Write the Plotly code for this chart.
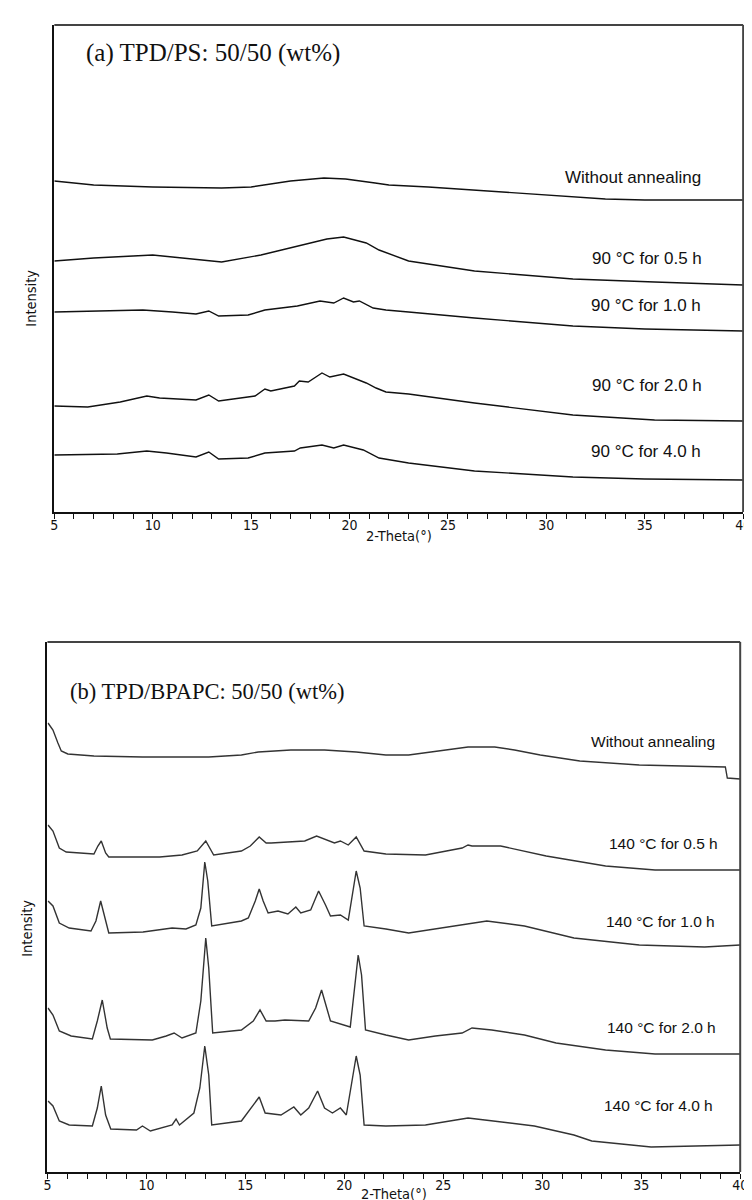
import plotly.graph_objects as go

# ---------------- Panel (a) TPD/PS data (2-Theta, intensity a.u.) ----------------
a_labels = ["Without annealing", "90 °C for 0.5 h", "90 °C for 1.0 h", "90 °C for 2.0 h", "90 °C for 4.0 h"]

a_wa_x = [5, 7, 10, 13.5, 15, 17, 18.7, 19.8, 21.3, 22, 24, 26.3, 30, 33, 35, 40]
a_wa_y = [335, 331, 329, 328, 329, 335, 338, 337, 333, 331, 329, 326, 321, 317, 316, 316]

a_05_x = [5, 7, 10, 11.85, 13.5, 15.5, 17.2, 18.85, 19.7, 20.85, 21.5, 23, 26.35, 31.35, 35.5, 40]
a_05_y = [255, 258, 261, 257, 254, 261, 269, 277, 279, 273, 266, 255, 245, 237, 234, 231]

a_10_x = [5, 7, 9.5, 11, 12.2, 12.85, 13.35, 14.85, 15.7, 17.35, 18.5, 19.2, 19.7, 20.2, 20.5, 21.2, 21.85, 23, 26.35, 31.35, 35, 40]
a_10_y = [204, 205, 206, 204, 202, 205, 200, 201, 206, 210, 215, 213, 218, 214, 215, 208, 206, 204, 198, 190, 187, 185]

a_20_x = [5, 6.7, 8.35, 9.7, 10.35, 12.2, 12.85, 13.35, 15.2, 15.7, 16, 17.2, 17.45, 17.9, 18.6, 19, 19.7, 20.25, 20.85, 21.35, 21.85, 23, 26.35, 31.35, 35.5, 40]
a_20_y = [110, 109, 114, 120, 118, 116, 121, 115, 120, 127, 125, 130, 135, 134, 143, 139, 142, 138, 133, 128, 124, 122, 113, 101, 96, 95]

a_40_x = [5, 8.2, 9.7, 10.7, 12.2, 12.85, 13.35, 14.85, 15.7, 17.2, 17.5, 18.6, 19.2, 19.7, 20.7, 21.5, 23, 26.35, 31.35, 35, 40]
a_40_y = [61, 62, 65, 63, 59, 64, 57, 58, 63, 65, 68, 71, 68, 71, 66, 58, 53, 45, 39, 37, 36]

# ---------------- Panel (b) TPD/BPAPC data ----------------
b_labels = ["Without annealing", "140 °C for 0.5 h", "140 °C for 1.0 h", "140 °C for 2.0 h", "140 °C for 4.0 h"]

b_wa_x = [5.03, 5.28, 5.53, 5.7, 6.03, 7.35, 9.8, 13.15, 14.8, 15.65, 17.3, 19, 20.6, 22.1, 23.25, 24.9, 26.25, 27.6, 28.6, 29.9, 31.9, 34.9, 38.2, 39.25, 39.35, 40]
b_wa_y = [455, 448, 435, 427, 424, 422, 421, 421, 423, 426, 428, 428, 426, 423, 423, 427, 431, 431, 428, 423, 417, 413, 411, 411, 400, 399]

b_05_x = [5.03, 5.28, 5.6, 5.95, 7.35, 7.55, 7.72, 7.94, 8.1, 10.67, 11.8, 12.57, 13, 13.25, 13.4, 14.8, 15.25, 15.7, 16.05, 16.3, 17.3, 18, 18.6, 19.1, 19.5, 19.8, 20.2, 20.6, 21, 22.1, 24.1, 25.95, 26.25, 26.45, 27.9, 30.2, 33.2, 35.7, 40]
b_05_y = [353, 347, 330, 326, 324, 332, 337, 325, 321, 321, 323, 327, 337, 328, 323, 327, 332, 341, 335, 335, 336, 337, 342, 338, 335, 337, 333, 341, 327, 324, 323, 330, 333, 332, 332, 322, 312, 308, 308]

b_10_x = [5.03, 5.28, 5.6, 6.1, 7.2, 7.45, 7.69, 7.89, 8.1, 9.83, 11.3, 12, 12.5, 12.75, 12.95, 13.1, 13.3, 14.8, 15.15, 15.5, 15.7, 15.9, 16.15, 16.65, 17.15, 17.55, 17.8, 18.3, 18.7, 19.05, 19.3, 19.8, 20.2, 20.6, 20.8, 21, 22.1, 23.25, 25.75, 27.2, 29.1, 31.6, 34.9, 38.2, 40]
b_10_y = [277, 272, 255, 250, 247, 257, 277, 260, 245, 246, 250, 249, 253, 270, 316, 297, 252, 257, 260, 277, 289, 277, 265, 267, 264, 271, 265, 268, 287, 273, 262, 263, 258, 307, 290, 252, 249, 245, 253, 257, 252, 240, 233, 231, 233]

b_20_x = [5.03, 5.28, 5.6, 6.2, 7.27, 7.52, 7.77, 8.02, 8.18, 10.3, 11, 11.4, 11.8, 12.5, 12.75, 13, 13.15, 13.35, 14.8, 15.4, 15.74, 16.05, 16.5, 17, 18.2, 18.55, 18.85, 19.1, 19.3, 20.3, 20.7, 20.87, 21.07, 22.1, 23.25, 24.6, 25.95, 26.45, 27.45, 29.1, 30.7, 33.2, 35.7, 40]
b_20_y = [170, 163, 147, 142, 139, 157, 178, 150, 139, 138, 142, 145, 140, 145, 177, 240, 210, 145, 148, 157, 168, 157, 157, 158, 157, 170, 188, 170, 157, 151, 223, 203, 148, 143, 138, 142, 145, 150, 148, 143, 135, 128, 124, 124]

b_40_x = [5.03, 5.28, 5.6, 6.1, 7.27, 7.52, 7.72, 7.94, 8.2, 9.5, 9.8, 10.2, 11.3, 11.5, 11.67, 12.4, 12.7, 12.95, 13.15, 13.3, 14.8, 15.3, 15.7, 16, 16.8, 17.45, 17.8, 18.2, 18.65, 19, 19.4, 19.8, 20.1, 20.6, 20.8, 21, 22.1, 24.1, 26.25, 27.1, 29.6, 31.6, 32.5, 35.5, 40]
b_40_y = [77, 72, 57, 53, 52, 70, 92, 63, 49, 48, 52, 47, 53, 59, 53, 65, 90, 132, 103, 53, 57, 70, 81, 65, 63, 71, 63, 70, 87, 70, 65, 70, 63, 122, 103, 53, 52, 53, 60, 58, 52, 43, 37, 31, 33]

# label anchor positions (data units)
a_label_x = [37.95, 38.0, 37.95, 38.0, 37.95]
a_label_y = [339, 258, 211, 131, 65]
b_label_x = [38.85, 39.0, 38.85, 38.9, 38.75]
b_label_y = [437, 335, 257, 151, 73]

xticks = [5, 10, 15, 20, 25, 30, 35, 40]

W, H = 752, 1200
# panel pixel boxes; intensity zero sits at pixel row a0 / b0
A = dict(l=43, r=743, t=17, b=504)
B = dict(l=36, r=740, t=634, b=1164)
a0, b0 = 508, 1170


def dom(box):
    return [box["l"] / W, box["r"] / W], [1 - box["b"] / H, 1 - box["t"] / H]


fig = go.Figure()

a_series = [(a_wa_x, a_wa_y), (a_05_x, a_05_y), (a_10_x, a_10_y), (a_20_x, a_20_y), (a_40_x, a_40_y)]
b_series = [(b_wa_x, b_wa_y), (b_05_x, b_05_y), (b_10_x, b_10_y), (b_20_x, b_20_y), (b_40_x, b_40_y)]

for (xs, ys), name in zip(a_series, a_labels):
    fig.add_trace(go.Scatter(x=xs, y=ys, mode="lines", name=name, xaxis="x", yaxis="y",
                             line=dict(color="#111111", width=1.4), showlegend=False))
for (xs, ys), name in zip(b_series, b_labels):
    fig.add_trace(go.Scatter(x=xs, y=ys, mode="lines", name=name, xaxis="x2", yaxis="y2",
                             line=dict(color="#333333", width=1.4), showlegend=False))

tickfont = dict(family="DejaVu Sans Condensed, Liberation Sans Narrow, Liberation Sans, Arial", size=14, color="#111111")

def xax(domain):
    return dict(domain=domain, range=[5, 40], tickvals=xticks, ticktext=[str(v) for v in xticks],
                ticks="outside", ticklen=5, tickwidth=1, tickcolor="#111111",
                minor=dict(ticks="outside", ticklen=5, dtick=1, tickwidth=1, tickcolor="#111111"),
                showline=True, linecolor="#111111", linewidth=1.5, showgrid=False, zeroline=False,
                tickfont=tickfont, ticklabelstandoff=-6, fixedrange=True)

def yax(domain, rng, anchor):
    return dict(domain=domain, range=rng, showticklabels=False, ticks="", showline=True,
                linecolor="#111111", linewidth=1.5, showgrid=False, zeroline=False, anchor=anchor)

ax_d, ay_d = dom(A)
bx_d, by_d = dom(B)

fig.update_layout(
    width=W, height=H, margin=dict(l=0, r=0, t=0, b=0),
    paper_bgcolor="white", plot_bgcolor="white",
    xaxis=dict(**xax(ax_d), anchor="y"),
    yaxis=yax(ay_d, [a0 - A["b"], a0 - A["t"]], "x"),
    xaxis2=dict(**xax(bx_d), anchor="y2"),
    yaxis2=yax(by_d, [b0 - B["b"], b0 - B["t"]], "x2"),
)

# top/right frame lines (gray)
for xr, yr in [("x domain", "y domain"), ("x2 domain", "y2 domain")]:
    fig.add_shape(type="line", xref=xr, yref=yr, x0=0, x1=1, y0=1, y1=1, line=dict(color="#444444", width=2))
    fig.add_shape(type="line", xref=xr, yref=yr, x0=1, x1=1, y0=0, y1=1, line=dict(color="#444444", width=2))

labfont_a = dict(family="Liberation Sans, Arial", size=17, color="#111111")
labfont_b = dict(family="Liberation Sans, Arial", size=15.5, color="#111111")
for t, x, y in zip(a_labels, a_label_x, a_label_y):
    fig.add_annotation(text=t, x=x, y=y, xref="x", yref="y", xanchor="right", yanchor="middle",
                       showarrow=False, font=labfont_a)
for t, x, y in zip(b_labels, b_label_x, b_label_y):
    fig.add_annotation(text=t, x=x, y=y, xref="x2", yref="y2", xanchor="right", yanchor="middle",
                       showarrow=False, font=labfont_b)

fig.add_annotation(text="(a) TPD/PS: 50/50 (wt%)", x=73 / W, y=1 - 45 / H, xref="paper", yref="paper",
                   xanchor="left", yanchor="middle", showarrow=False,
                   font=dict(family="Liberation Serif, Times New Roman, serif", size=25, color="#111111"))
fig.add_annotation(text="(b) TPD/BPAPC: 50/50 (wt%)", x=57 / W, y=1 - 683 / H, xref="paper", yref="paper",
                   xanchor="left", yanchor="middle", showarrow=False,
                   font=dict(family="Liberation Serif, Times New Roman, serif", size=22.5, color="#111111"))

axfont = dict(family="DejaVu Sans Condensed, Liberation Sans Narrow, Liberation Sans, Arial", size=14.5, color="#111111")
fig.add_annotation(text="2-Theta(°)", x=393 / W, y=1 - 528 / H, xref="paper", yref="paper",
                   xanchor="center", yanchor="middle", showarrow=False, font=axfont)
fig.add_annotation(text="2-Theta(°)", x=388 / W, y=1 - 1186 / H, xref="paper", yref="paper",
                   xanchor="center", yanchor="middle", showarrow=False, font=axfont)
fig.add_annotation(text="Intensity", x=19 / W, y=1 - 290 / H, xref="paper", yref="paper", textangle=-90,
                   xanchor="center", yanchor="middle", showarrow=False, font=axfont)
fig.add_annotation(text="Intensity", x=15 / W, y=1 - 920 / H, xref="paper", yref="paper", textangle=-90,
                   xanchor="center", yanchor="middle", showarrow=False, font=axfont)

fig.write_html("out.html")
